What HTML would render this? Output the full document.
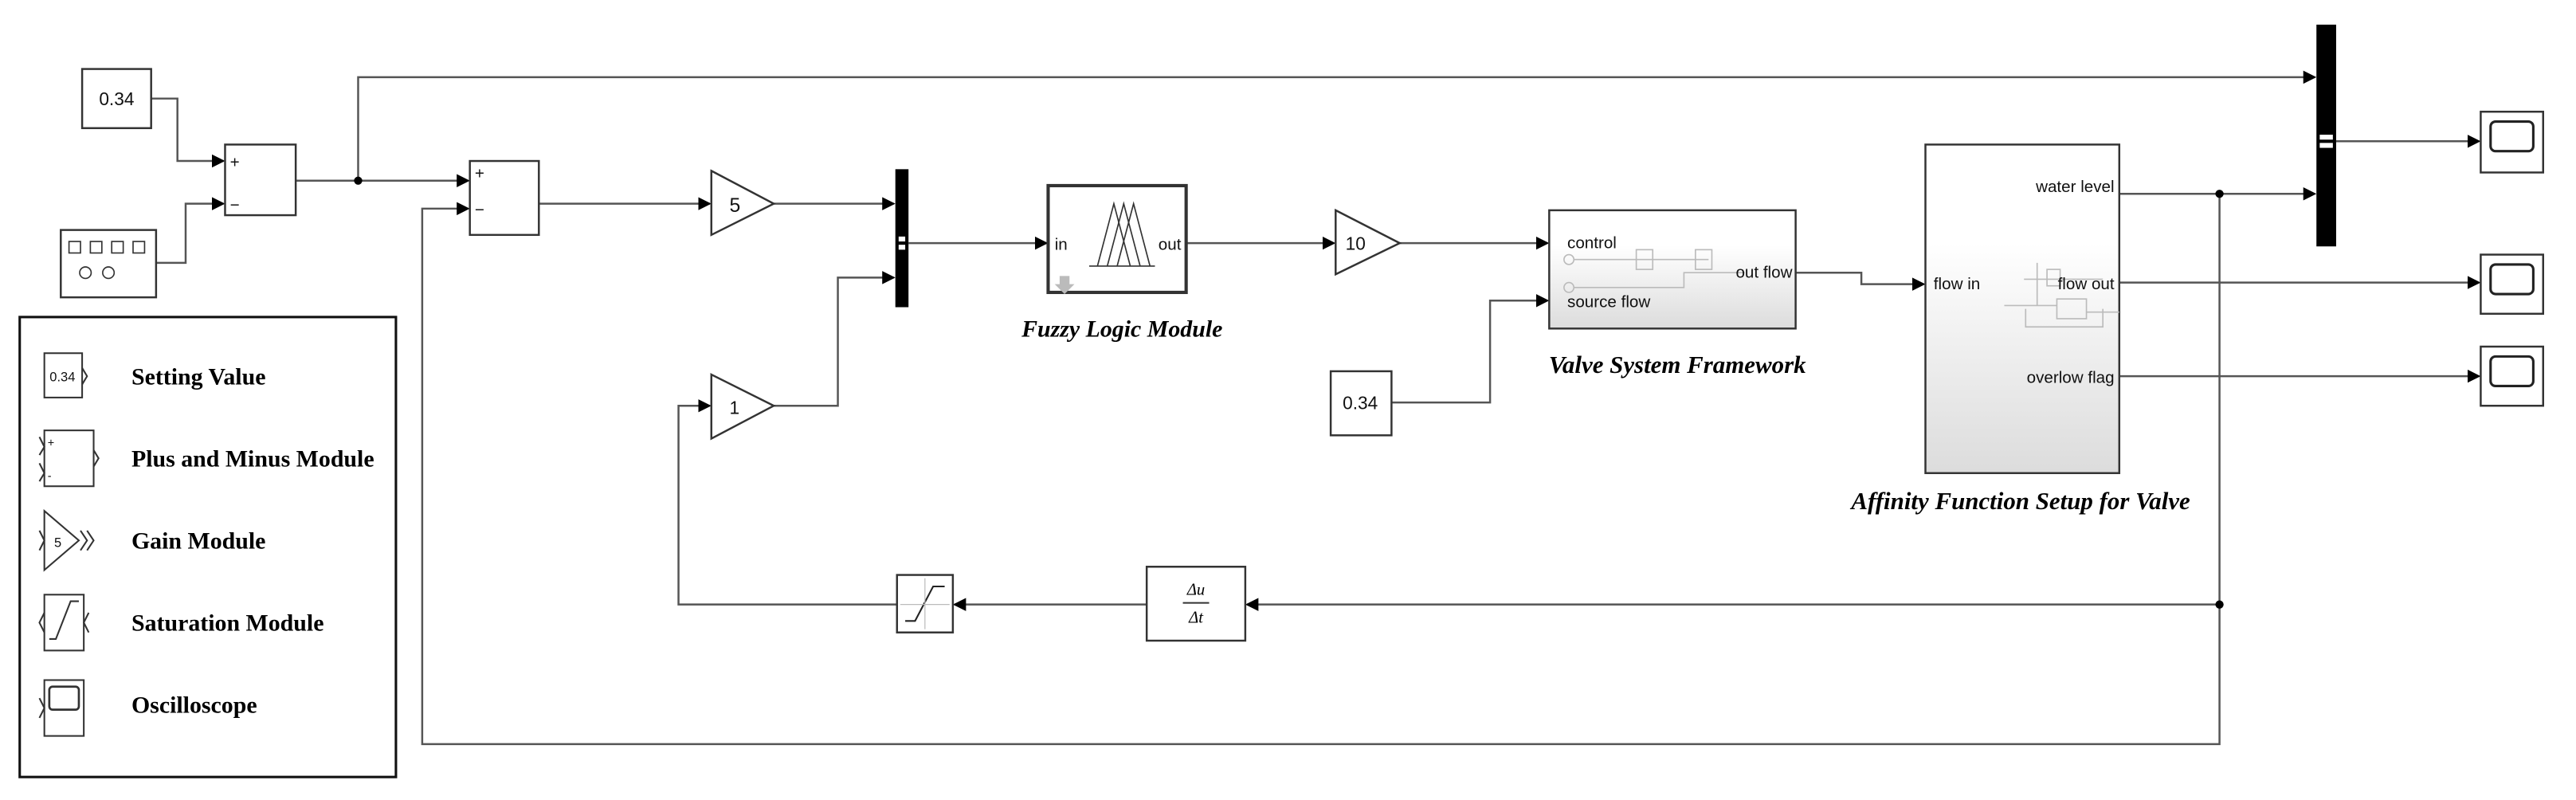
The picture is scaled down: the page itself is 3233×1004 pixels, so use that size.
<!DOCTYPE html>
<html><head><meta charset="utf-8"><style>
html,body{margin:0;padding:0;background:#fff;}
svg{display:block;}
.s{font-family:"Liberation Sans",sans-serif;fill:#111;}
.t{font-family:"Liberation Serif",serif;font-weight:bold;fill:#000;}
.ti{font-family:"Liberation Serif",serif;font-weight:bold;font-style:italic;fill:#000;}
</style></head><body>
<svg width="3233" height="1004" viewBox="0 0 1568 487" preserveAspectRatio="none" xmlns="http://www.w3.org/2000/svg">
<defs>
<marker id="a" markerWidth="8" markerHeight="8" refX="7" refY="4" orient="auto" markerUnits="userSpaceOnUse"><path d="M0,0 L8,4 L0,8 Z" fill="#000"/></marker>
<linearGradient id="g" x1="0" y1="0" x2="0" y2="1"><stop offset="0.3" stop-color="#fff"/><stop offset="1" stop-color="#dcdcdc"/></linearGradient>
</defs>
<g fill="none" stroke="#555" stroke-width="1.2">
<polyline points="92,60 108,60 108,98 136,98" marker-end="url(#a)"/>
<polyline points="95,160 113,160 113,124 136,124" marker-end="url(#a)"/>
<polyline points="180,110 285,110" marker-end="url(#a)"/>
<polyline points="218,110 218,47 1409,47" marker-end="url(#a)"/>
<polyline points="328,124 432,124" marker-end="url(#a)"/>
<polyline points="471,124 544,124" marker-end="url(#a)"/>
<polyline points="471,247 510,247 510,169 544,169" marker-end="url(#a)"/>
<polyline points="553,148 637,148" marker-end="url(#a)"/>
<polyline points="722,148 812,148" marker-end="url(#a)"/>
<polyline points="852,148 942,148" marker-end="url(#a)"/>
<polyline points="847,245 907,245 907,183 942,183" marker-end="url(#a)"/>
<polyline points="1093,166 1133,166 1133,173 1171,173" marker-end="url(#a)"/>
<polyline points="1290,118 1409,118" marker-end="url(#a)"/>
<polyline points="1422,86 1509,86" marker-end="url(#a)"/>
<polyline points="1290,172 1509,172" marker-end="url(#a)"/>
<polyline points="1290,229 1509,229" marker-end="url(#a)"/>
<polyline points="1351,118 1351,453 257,453 257,127 285,127" marker-end="url(#a)"/>
<polyline points="1351,368 759,368" marker-end="url(#a)"/>
<polyline points="698,368 581,368" marker-end="url(#a)"/>
<polyline points="546,368 413,368 413,247 432,247" marker-end="url(#a)"/>
</g>
<circle cx="218" cy="110" r="2.5" fill="#000"/>
<circle cx="1351" cy="118" r="2.5" fill="#000"/>
<circle cx="1351" cy="368" r="2.5" fill="#000"/>
<g stroke="#333" stroke-width="1.2" fill="#fff">
<rect x="50" y="42" width="42" height="36"/>
<rect x="37" y="140" width="58" height="41"/>
<rect x="137" y="88" width="43" height="43"/>
<rect x="286" y="98" width="42" height="45"/>
<polygon points="433,104 471,124 433,143"/>
<polygon points="433,228 471,247 433,267"/>
<polygon points="813,128 852,148 813,167"/>
<rect x="638" y="113" width="84" height="65" stroke-width="2"/>
<rect x="943" y="128" width="150" height="72" fill="url(#g)"/>
<rect x="810" y="226" width="37" height="39"/>
<rect x="1172" y="88" width="118" height="200" fill="url(#g)"/>
<rect x="1510" y="68" width="38" height="37"/>
<rect x="1510" y="155" width="38" height="36"/>
<rect x="1510" y="211" width="38" height="36"/>
<rect x="698" y="345" width="60" height="45"/>
<rect x="546" y="350" width="34" height="35"/>
</g>
<rect x="545" y="103" width="8" height="84" fill="#000"/>
<rect x="1410" y="15" width="12" height="135" fill="#000"/>
<rect x="547" y="144" width="4" height="3" fill="#fff"/><rect x="547" y="149" width="4" height="3" fill="#fff"/>
<rect x="1412" y="82" width="8" height="3" fill="#fff"/><rect x="1412" y="87" width="8" height="3" fill="#fff"/>
<g fill="none" stroke="#222" stroke-width="1.5">
<rect x="1516" y="74" width="26" height="18" rx="3"/>
<rect x="1516" y="161" width="26" height="18" rx="3"/>
<rect x="1516" y="217" width="26" height="18" rx="3"/>
</g>
<g fill="none" stroke="#333" stroke-width="0.8">
<rect x="42" y="147" width="7" height="7"/><rect x="55" y="147" width="7" height="7"/><rect x="68" y="147" width="7" height="7"/><rect x="81" y="147" width="7" height="7"/>
<circle cx="52" cy="166" r="3.5"/><circle cx="66" cy="166" r="3.5"/>
</g>
<g fill="none" stroke="#333" stroke-width="0.8">
<polyline points="668,162 678,124 688,162"/><polyline points="674,162 684,124 694,162"/><polyline points="680,162 690,124 700,162"/>
<line x1="663" y1="162" x2="703" y2="162"/>
</g>
<path d="M645,168 h6 v5 h3 l-6,6 l-6,-6 h3 z" fill="#bbb"/>
<g fill="none" stroke="#bbb" stroke-width="0.8">
<line x1="958" y1="158" x2="1040" y2="158"/><rect x="996" y="152" width="10" height="12"/><rect x="1032" y="152" width="10" height="12"/>
<polyline points="958,175 1025,175 1025,166 1062,166"/>
<circle cx="955" cy="158" r="3"/><circle cx="955" cy="175" r="3"/>
</g>
<g fill="none" stroke="#bbb" stroke-width="0.8">
<line x1="1232" y1="170" x2="1280" y2="170"/><rect x="1246" y="164" width="8" height="10"/><rect x="1252" y="182" width="18" height="12"/>
<polyline points="1220,186 1252,186"/><polyline points="1233,188 1233,199 1280,199 1280,188"/><line x1="1270" y1="190" x2="1290" y2="190"/>
<line x1="1240" y1="160" x2="1240" y2="186"/>
</g>
<g fill="none" stroke="#222" stroke-width="1">
<polyline points="551,378 557,378 568,357 575,357"/>
</g>
<line x1="563" y1="352" x2="563" y2="383" stroke="#bbb" stroke-width="0.6"/>
<line x1="548" y1="368" x2="578" y2="368" stroke="#bbb" stroke-width="0.6"/>
<text x="728" y="362" text-anchor="middle" class="ti" style="font-weight:normal" font-size="10">Δu</text>
<line x1="720" y1="367" x2="736" y2="367" stroke="#333" stroke-width="1"/>
<text x="728" y="379" text-anchor="middle" class="ti" style="font-weight:normal" font-size="10">Δt</text>
<text x="71" y="64" text-anchor="middle" class="s" font-size="11">0.34</text>
<text x="828" y="249" text-anchor="middle" class="s" font-size="11">0.34</text>
<text x="140" y="102" class="s" font-size="10">+</text><text x="140" y="128" class="s" font-size="10">−</text>
<text x="289" y="109" class="s" font-size="10">+</text><text x="289" y="131" class="s" font-size="10">−</text>
<text x="444" y="129" class="s" font-size="12">5</text>
<text x="444" y="252" class="s" font-size="11">1</text>
<text x="819" y="152" class="s" font-size="11">10</text>
<text x="642" y="152" class="s" font-size="10">in</text>
<text x="719" y="152" text-anchor="end" class="s" font-size="10">out</text>
<text x="954" y="151" class="s" font-size="10">control</text>
<text x="954" y="187" class="s" font-size="10">source flow</text>
<text x="1091" y="169" text-anchor="end" class="s" font-size="10">out flow</text>
<text x="1177" y="176" class="s" font-size="10">flow in</text>
<text x="1287" y="117" text-anchor="end" class="s" font-size="10">water level</text>
<text x="1287" y="176" text-anchor="end" class="s" font-size="10">flow out</text>
<text x="1287" y="233" text-anchor="end" class="s" font-size="10">overlow flag</text>
<text x="683" y="205" text-anchor="middle" class="ti" font-size="14.5">Fuzzy Logic Module</text>
<text x="1021" y="227" text-anchor="middle" class="ti" font-size="15">Valve System Framework</text>
<text x="1230" y="310" text-anchor="middle" class="ti" font-size="15">Affinity Function Setup for Valve</text>
<rect x="12" y="193" width="229" height="280" fill="none" stroke="#111" stroke-width="1.5"/>
<g stroke="#333" stroke-width="1" fill="#fff">
<rect x="27" y="215" width="23" height="27"/>
<rect x="27" y="262" width="30" height="34"/>
<polygon points="27,311 48,329 27,347"/>
<rect x="27" y="362" width="24" height="34"/>
<rect x="27" y="414" width="24" height="34"/>
</g>
<g fill="none" stroke="#333" stroke-width="1">
<polyline points="50,224 53,229 50,234"/>
<polyline points="24,266 27,272 24,277"/><polyline points="24,282 27,288 24,293"/><polyline points="57,274 60,279 57,284"/>
<polyline points="24,323 27,329 24,335"/><polyline points="49,323 53,329 49,335"/><polyline points="53,323 57,329 53,335"/>
<polyline points="27,373 24,379 27,385"/><polyline points="54,373 51,379 54,385"/>
<polyline points="30,389 34,389 43,366 48,366"/>
<polyline points="24,425 27,431 24,437"/>
<rect x="30" y="418" width="18" height="14" rx="2" stroke-width="1.3"/>
</g>
<text x="38" y="232" text-anchor="middle" class="s" font-size="8">0.34</text>
<text x="29" y="272" class="s" font-size="7">+</text><text x="29" y="292" class="s" font-size="7">-</text>
<text x="33" y="333" class="s" font-size="8">5</text>
<text x="80" y="234" class="t" font-size="14.5">Setting Value</text>
<text x="80" y="284" class="t" font-size="14.5">Plus and Minus Module</text>
<text x="80" y="334" class="t" font-size="14.5">Gain Module</text>
<text x="80" y="384" class="t" font-size="14.5">Saturation Module</text>
<text x="80" y="434" class="t" font-size="14.5">Oscilloscope</text>
</svg>
</body></html>
